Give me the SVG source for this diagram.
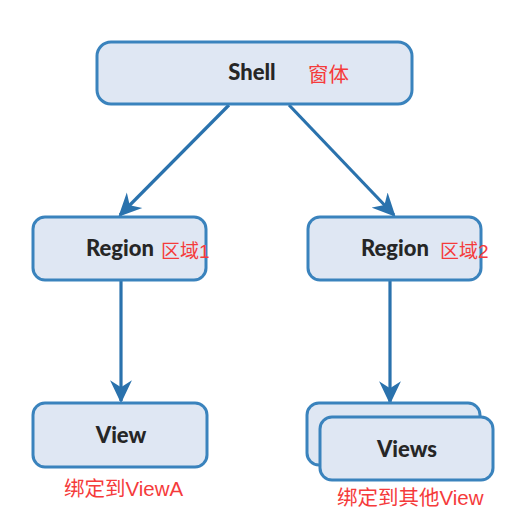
<svg xmlns="http://www.w3.org/2000/svg" width="530" height="522" viewBox="0 0 530 522">
<defs>
<marker id="ah" viewBox="0 0 20 20" refX="18" refY="10" markerWidth="23" markerHeight="23" markerUnits="userSpaceOnUse" orient="auto">
<path d="M0,0.5 L20,10 L0,19.5 L6,10 Z" fill="#2a72ad"/>
</marker>
<style>
.box{fill:#dfe7f3;stroke:#3a83bd;stroke-width:3}
.lbl{font-family:Lato,"Open Sans",sans-serif;font-weight:900;font-size:22px;fill:#262626;text-anchor:middle}
.cn{font-family:"Liberation Sans","Noto Sans CJK SC",sans-serif;font-size:20.5px;fill:#f53b3b}
.edge{stroke:#2a72ad;stroke-width:3.2;fill:none;marker-end:url(#ah)}
</style>
</defs>
<rect width="530" height="522" fill="#fff"/>
<g id="connectors">
<line class="edge" x1="229" y1="105" x2="120" y2="215"/>
<line class="edge" x1="289" y1="105" x2="394" y2="215"/>
<line class="edge" x1="121" y1="281" x2="121" y2="401"/>
<line class="edge" x1="390" y1="281" x2="390" y2="402"/>
</g>
<g id="shell">
<rect class="box" x="97" y="42" width="315" height="62" rx="14"/>
<text class="lbl" x="252" y="80">Shell</text>
<text class="cn" x="308" y="82">窗体</text>
</g>
<g id="region1">
<rect class="box" x="33" y="217" width="173" height="63" rx="12"/>
<text class="lbl" x="120" y="256">Region</text>
<text class="cn" x="161" y="258" style="font-size:19px">区域1</text>
</g>
<g id="region2">
<rect class="box" x="308" y="217" width="173" height="63" rx="12"/>
<text class="lbl" x="395" y="256">Region</text>
<text class="cn" x="440" y="258" style="font-size:19px">区域2</text>
</g>
<g id="view">
<rect class="box" x="33" y="403" width="174" height="64" rx="12"/>
<text class="lbl" x="121" y="443">View</text>
<text class="cn" x="64" y="496">绑定到ViewA</text>
</g>
<g id="views">
<rect class="box" x="307" y="403" width="173" height="62" rx="12"/>
<rect class="box" x="320" y="417" width="173" height="63" rx="12"/>
<text class="lbl" x="407" y="457">Views</text>
<text class="cn" x="337" y="505">绑定到其他View</text>
</g>
</svg>
